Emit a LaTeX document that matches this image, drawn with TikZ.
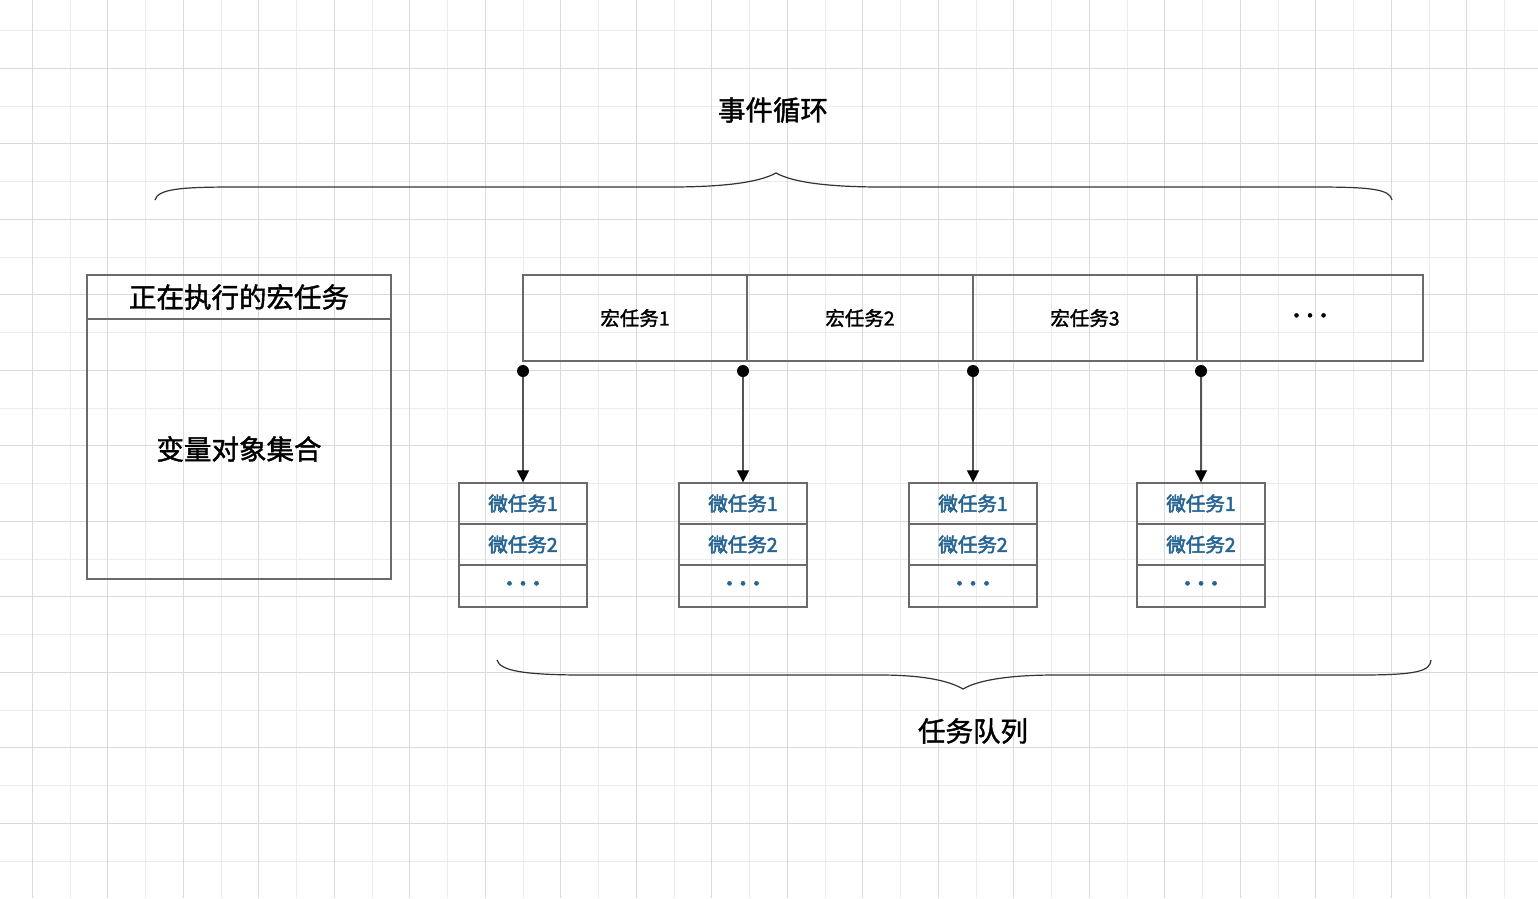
\documentclass[tikz,border=0pt]{standalone}
\usepackage{fontspec}
\setmainfont{Noto Sans CJK SC}
\newfontfamily\medfont[FakeBold=1.5]{Noto Sans CJK SC}
\newfontfamily\semifont[FakeBold=2.5]{Noto Sans CJK SC}
\usetikzlibrary{arrows.meta}
\definecolor{griddark}{HTML}{DADADA}
\definecolor{gridlight}{HTML}{ECECEC}
\definecolor{boxgray}{HTML}{6A6A6A}
\definecolor{conngray}{HTML}{555555}
\definecolor{microblue}{RGB}{38,100,146}
\newcommand{\tridots}{\raisebox{-2.5pt}{·\kern-6pt·\kern-6pt·}}
\tikzset{
  bigtext/.style={inner sep=0pt,font=\medfont\fontsize{27.5}{30}\selectfont},
  leftcell/.style={draw=boxgray,line width=1.3pt,minimum width=304pt,inner sep=0pt,font=\medfont\fontsize{27.5}{30}\selectfont},
  macrocell/.style={draw=boxgray,line width=1.3pt,minimum height=86pt,inner sep=0pt,font=\medfont\fontsize{19.5}{22}\selectfont},
  microcell/.style={draw=boxgray,line width=1.3pt,minimum width=128pt,inner sep=0pt,text=microblue,font=\semifont\fontsize{19.5}{22}\selectfont},
  conn/.style={draw=conngray,line width=1.2pt,-{Triangle[length=12pt,width=12pt,fill=black,color=black]}},
  dot/.style={fill=black},
  brace/.style={draw=black!80,line width=1.2pt},
  gridd/.style={draw=griddark,line width=1pt},
  gridl/.style={draw=gridlight,line width=1pt}
}
\begin{document}
\begin{tikzpicture}[x=1pt,y=-1pt]
\useasboundingbox (0,0) rectangle (1538,898);
\fill[white] (0,0) rectangle (1538,898);
% grid
\foreach \i in {0,...,19} \draw[gridl] ({70.05+75.5*\i},0) -- ++(0,898);
\foreach \i in {0,...,11} \draw[gridl] (0,{30.55+75.5*\i}) -- ++(1538,0);
\foreach \i in {0,...,20} \draw[gridd] ({32.3+75.5*\i},0) -- ++(0,898);
\foreach \i in {0,...,10} \draw[gridd] (0,{68.3+75.5*\i}) -- ++(1538,0);

% top label and brace
\node[bigtext] (evloop) at (773,110) {事件循环};
\draw[brace] (155,200) .. controls (158,189) and (180,187) .. (235,187) -- (670,187)
  .. controls (720,187) and (758,183) .. (776,173)
  .. controls (794,183) and (832,187) .. (882,187) -- (1315,187)
  .. controls (1370,187) and (1390,189) .. (1392,200);

% left box
\node[leftcell,minimum height=44pt] (curhead) at (239,297) {正在执行的宏任务};
\node[leftcell,minimum height=260pt] (curbody) at (239,449) {变量对象集合};

% macro task row
\node[macrocell,minimum width=224pt] (mac1) at (635,318) {宏任务1};
\node[macrocell,minimum width=226pt] (mac2) at (860,318) {宏任务2};
\node[macrocell,minimum width=224pt] (mac3) at (1085,318) {宏任务3};
\node[macrocell,minimum width=226pt] (mac4) at (1310,318) {\tridots};

% micro task stacks
\foreach \k/\x in {1/523,2/743,3/973,4/1201}{
  \node[microcell,minimum height=41pt] (mic\k a) at (\x,503.5) {微任务1};
  \node[microcell,minimum height=41pt] (mic\k b) at (\x,544.5) {微任务2};
  \node[microcell,minimum height=42pt] (mic\k c) at (\x,586) {\tridots};
}

% connectors
\coordinate (d1) at (523,371);
\coordinate (d2) at (743,371);
\coordinate (d3) at (973,371);
\coordinate (d4) at (1201,371);
\foreach \k in {1,2,3,4}{
  \draw[conn] (d\k) -- (mic\k a.north);
  \fill[dot] (d\k) circle (6pt);
}

% bottom brace and label
\draw[brace] (497,660) .. controls (500,671) and (525,675) .. (585,675) -- (880,675)
  .. controls (920,675) and (948,680) .. (963,689)
  .. controls (978,680) and (1010,675) .. (1055,675) -- (1360,675)
  .. controls (1418,675) and (1430,671) .. (1431,660);
\node[bigtext] (tq) at (973,731) {任务队列};
\end{tikzpicture}
\end{document}
